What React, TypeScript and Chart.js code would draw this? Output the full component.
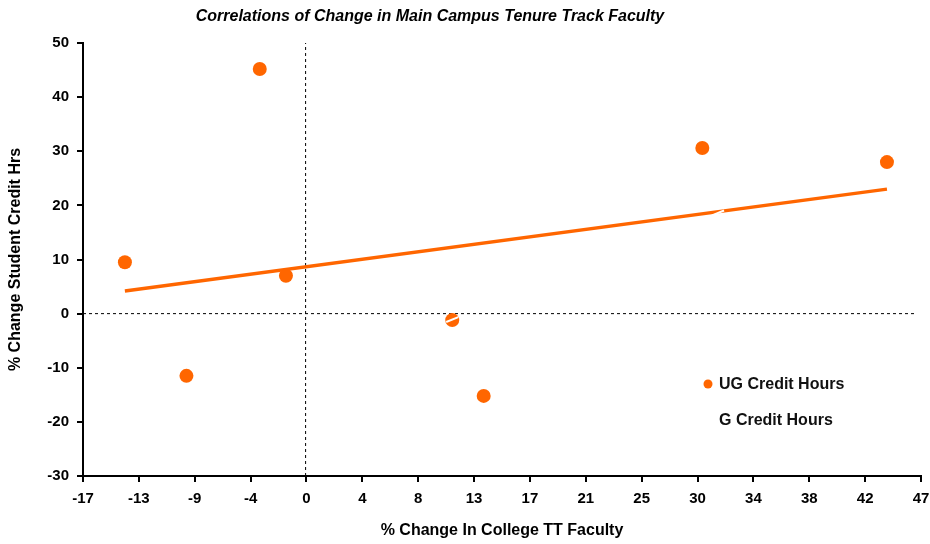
import { useEffect, useRef } from "react";
import { Chart, registerables } from "chart.js";

Chart.register(...registerables);

const chartTitle = "Correlations of Change in Main Campus Tenure Track Faculty";
const xAxisTitle = "% Change In College TT Faculty";
const yAxisTitle = "% Change Student Credit Hrs";
const xTickLabels = ["-17", "-13", "-9", "-4", "0", "4", "8", "13", "17", "21", "25", "30", "34", "38", "42", "47"];
const xMin = -17;
const xMax = 47;
const yMin = -30;
const yMax = 50;
const yStep = 10;

const ugLabel = "UG Credit Hours";
const ugX = [-13.8, -9.1, -3.5, -1.5, 11.2, 13.6, 30.3, 44.4];
const ugY = [9.5, -11.5, 45.2, 7.0, -1.2, -15.2, 30.6, 28.0];

const gLabel = "G Credit Hours";
const gX = [11.2, 31.5];
const gY = [-1.1, 18.6];

const trendX = [-13.8, 44.4];
const trendY = [4.2, 23.0];

const zeroVX = [0, 0];
const zeroVY = [yMin, yMax];
const zeroHX = [xMin, 46.5];
const zeroHY = [0, 0];

const ORANGE = "#ff6600";
const FONT = "'Liberation Sans', Arial, Helvetica, sans-serif";

const pts = (xs: number[], ys: number[]) => xs.map((x, i) => ({ x, y: ys[i] }));

export default function App() {
  const ref = useRef<HTMLCanvasElement | null>(null);

  useEffect(() => {
    document.body.style.margin = "0";
    const canvas = ref.current;
    if (!canvas) return;

    const overlay = {
      id: "overlay",
      afterDraw(chart: any) {
        const ctx = chart.ctx;
        ctx.save();
        ctx.fillStyle = "#000";
        ctx.font = `bold italic 16px ${FONT}`;
        ctx.textAlign = "center";
        ctx.textBaseline = "middle";
        ctx.fillText(chartTitle, 430, 17);

        ctx.font = `bold 16px ${FONT}`;
        ctx.textAlign = "left";
        ctx.beginPath();
        ctx.arc(708, 384, 4.5, 0, Math.PI * 2);
        ctx.fillStyle = ORANGE;
        ctx.fill();
        ctx.fillStyle = "#111";
        ctx.fillText(ugLabel, 719, 385);
        ctx.fillText(gLabel, 719, 421);
        ctx.restore();
      },
    };

    const chart = new Chart(canvas, {
      type: "scatter",
      plugins: [overlay],
      data: {
        datasets: [
          {
            label: gLabel,
            data: pts(gX, gY),
            pointStyle: "line",
            rotation: -22,
            pointRadius: 6.5,
            borderColor: "#ffffff",
            backgroundColor: "#ffffff",
            pointBorderWidth: 2,
            order: 0,
          },
          {
            label: ugLabel,
            data: pts(ugX, ugY),
            pointRadius: 7,
            backgroundColor: ORANGE,
            borderColor: ORANGE,
            borderWidth: 0,
            order: 1,
          },
          {
            label: "trend",
            data: pts(trendX, trendY),
            showLine: true,
            pointRadius: 0,
            borderColor: ORANGE,
            borderWidth: 3.5,
            order: 2,
          },
          {
            label: "zeroV",
            data: pts(zeroVX, zeroVY),
            showLine: true,
            pointRadius: 0,
            borderColor: "#000",
            borderWidth: 1,
            borderDash: [3, 3],
            order: 3,
          },
          {
            label: "zeroH",
            data: pts(zeroHX, zeroHY),
            showLine: true,
            pointRadius: 0,
            borderColor: "#000",
            borderWidth: 1,
            borderDash: [3, 3],
            order: 3,
          },
        ],
      },
      options: {
        responsive: false,
        animation: false,
        layout: { padding: { top: 43, right: 9, left: 0, bottom: 0 } },
        plugins: {
          legend: { display: false },
          tooltip: { enabled: false },
          title: { display: false },
        },
        scales: {
          x: {
            type: "linear",
            min: xMin,
            max: xMax,
            afterFit(scale: any) {
              scale.height = 68;
              scale.paddingRight = 0;
              scale.paddingLeft = 0;
            },
            afterBuildTicks(scale: any) {
              const n = xTickLabels.length;
              scale.ticks = xTickLabels.map((_, i) => ({ value: xMin + (i * (xMax - xMin)) / (n - 1) }));
            },
            ticks: {
              autoSkip: false,
              maxRotation: 0,
              padding: 8,
              color: "#000",
              font: { family: FONT, size: 15, weight: "bold" },
              callback: (_v: any, i: number) => xTickLabels[i],
            },
            grid: { display: true, drawOnChartArea: false, drawTicks: true, tickLength: 6, color: "#000", lineWidth: 2 },
            border: { display: true, color: "#000", width: 2 },
            title: {
              display: true,
              text: xAxisTitle,
              color: "#000",
              font: { family: FONT, size: 16, weight: "bold" },
              padding: { top: 10, bottom: 4 },
            },
          },
          y: {
            type: "linear",
            min: yMin,
            max: yMax,
            afterFit(scale: any) {
              scale.width = 83;
              scale.paddingTop = 0;
              scale.paddingBottom = 0;
            },
            ticks: {
              stepSize: yStep,
              padding: 8,
              color: "#000",
              font: { family: FONT, size: 15, weight: "bold" },
            },
            grid: { display: true, drawOnChartArea: false, drawTicks: true, tickLength: 6, color: "#000", lineWidth: 2 },
            border: { display: true, color: "#000", width: 2 },
            title: {
              display: true,
              text: yAxisTitle,
              color: "#000",
              font: { family: FONT, size: 16, weight: "bold" },
              padding: { top: 6, bottom: 0 },
            },
          },
        },
      },
    } as any);

    return () => chart.destroy();
  }, []);

  return (
    <div style={{ width: 930, height: 544 }}>
      <canvas ref={ref} width={930} height={544} />
    </div>
  );
}
